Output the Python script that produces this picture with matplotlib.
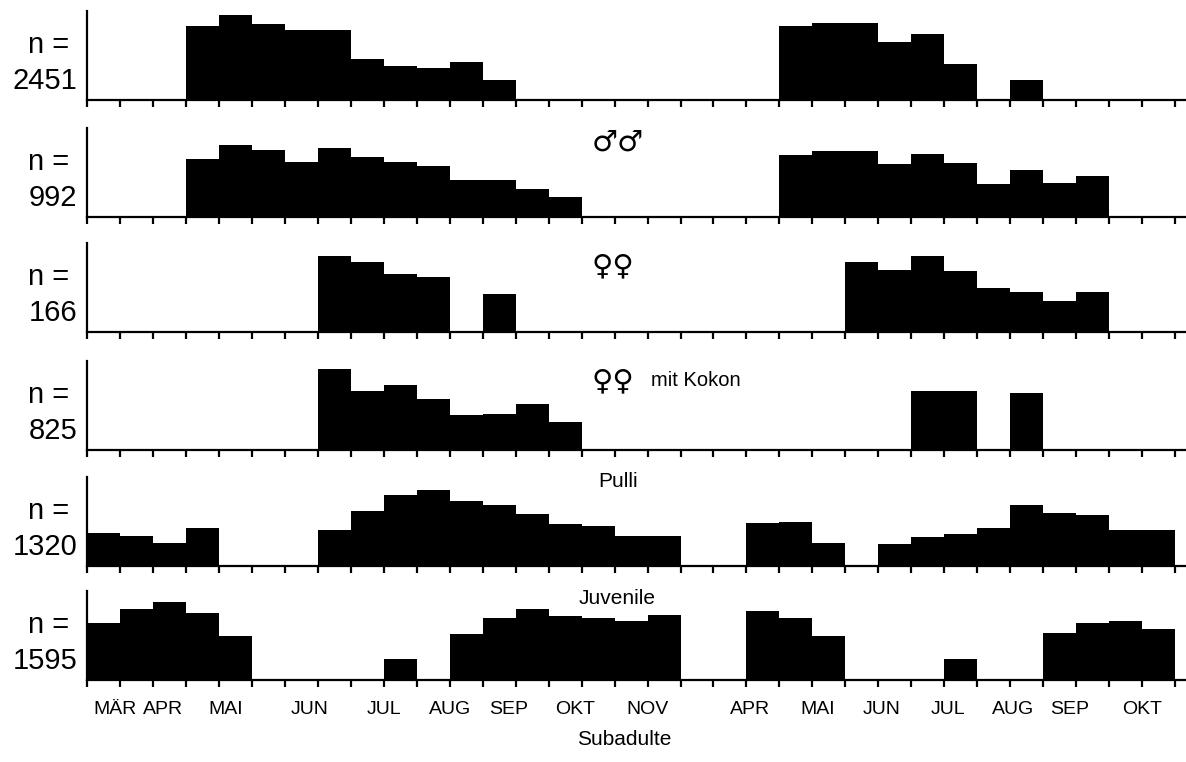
import numpy as np
import matplotlib
matplotlib.use('Agg')
import matplotlib.pyplot as plt

plt.rcParams['font.family'] = ['Liberation Sans', 'DejaVu Sans']

# half-month bins, 0 = early March (year 1) ... 32 = late October (year 2)
bins = np.arange(33)

adulte = [0, 0, 0, 83, 96, 85, 79, 79, 46, 38, 36, 43, 23, 0, 0, 0, 0,
          0, 0, 0, 0, 83, 86, 86, 65, 74, 41, 0, 23, 0, 0, 0, 0]
maennchen = [0, 0, 0, 65, 81, 75, 62, 78, 67, 62, 57, 42, 42, 31, 23, 0, 0,
             0, 0, 0, 0, 70, 74, 74, 59, 71, 61, 37, 53, 38, 46, 0, 0]
weibchen = [0, 0, 0, 0, 0, 0, 0, 85, 79, 65, 62, 0, 43, 0, 0, 0, 0,
            0, 0, 0, 0, 0, 0, 79, 70, 85, 68, 50, 45, 35, 45, 0, 0]
weibchen_kokon = [0, 0, 0, 0, 0, 0, 0, 91, 66, 73, 57, 39, 41, 52, 32, 0, 0,
                  0, 0, 0, 0, 0, 0, 0, 0, 66, 66, 0, 64, 0, 0, 0, 0]
pulli = [37, 34, 26, 43, 0, 0, 0, 40, 62, 80, 85, 73, 68, 58, 47, 45, 34,
         34, 0, 0, 48, 49, 26, 0, 25, 33, 36, 43, 69, 60, 57, 41, 41]
juvenile = [64, 80, 88, 75, 49, 0, 0, 0, 0, 24, 0, 52, 70, 80, 72, 70, 66,
            73, 0, 0, 78, 70, 49, 0, 0, 0, 24, 0, 0, 53, 64, 66, 57]

serien = [adulte, maennchen, weibchen, weibchen_kokon, pulli, juvenile]
n_werte = ['2451', '992', '166', '825', '1320', '1595']
titel = ['', '\u2642\u2642', '\u2640\u2640', '\u2640\u2640', 'Pulli', 'Juvenile']

monate = ['MÄR', 'APR', 'MAI', 'JUN', 'JUL', 'AUG', 'SEP', 'OKT', 'NOV',
          'APR', 'MAI', 'JUN', 'JUL', 'AUG', 'SEP', 'OKT']
monat_pos = [0.85, 2.3, 4.2, 6.75, 9.0, 11.0, 12.8, 14.8, 17.0,
             20.1, 22.15, 24.1, 26.1, 28.1, 29.8, 32.0]

W, H = 1186, 762
fig = plt.figure(figsize=(W / 100, H / 100), dpi=100)
fig.patch.set_facecolor('white')

basis_px = [100, 217, 332, 450, 566, 680]
hoehe_px = 89
links_px = 87

for i, werte in enumerate(serien):
    ax = fig.add_axes([links_px / W, 1 - basis_px[i] / H,
                       (W - links_px) / W, hoehe_px / H])
    ax.bar(bins, werte, width=1, align='edge', color='black', linewidth=0)
    ax.set_xlim(0, 33.33)
    ax.set_ylim(0, 100)
    ax.patch.set_alpha(0)

    for s in ['top', 'right']:
        ax.spines[s].set_visible(False)
    ax.spines['left'].set_linewidth(1.6)
    ax.spines['bottom'].set_linewidth(1.6)
    ax.set_yticks([])

    ax.set_xticks(np.arange(34))
    ax.set_xticklabels([])
    ax.tick_params(axis='x', which='major', direction='out', length=5, width=1.6)

    # n = ...
    ax.text(-0.55, 53, 'n =', ha='right', va='baseline', fontsize=21)
    ax.text(-0.3, 12, n_werte[i], ha='right', va='baseline', fontsize=21)

    if i == 1 or i == 2:
        ax.text(15.3, 84 if i == 1 else 74, titel[i], ha='left', va='center',
                fontsize=21, family='DejaVu Sans')
    elif i == 3:
        ax.text(15.3, 77, titel[i], ha='left', va='center', fontsize=21, family='DejaVu Sans')
        ax.text(17.1, 78, 'mit Kokon', ha='left', va='center', fontsize=14.5)
    elif i == 4:
        ax.text(15.5, 95, titel[i], ha='left', va='center', fontsize=15)
    elif i == 5:
        ax.text(14.9, 92, titel[i], ha='left', va='center', fontsize=15)

    if i == 5:
        ax.xaxis.remove_overlapping_locs = False
        ax.set_xticks(monat_pos, minor=True)
        ax.set_xticklabels(monate, minor=True)
        ax.tick_params(axis='x', which='minor', length=0, pad=15, labelsize=14)
        ax.text(16.3, -67, 'Subadulte', ha='center', va='center', fontsize=15)

fig.savefig('out.png', dpi=100, facecolor='white')
